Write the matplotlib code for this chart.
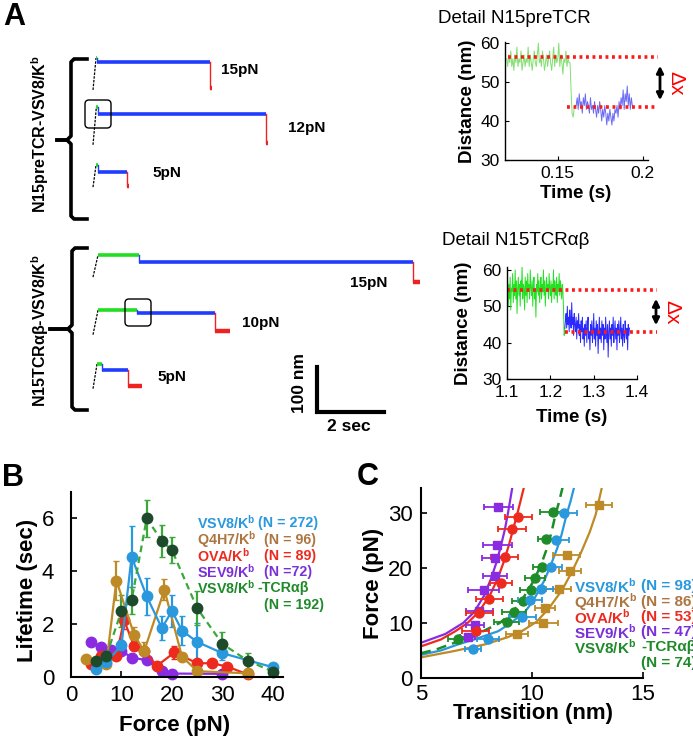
import numpy as np
import matplotlib
matplotlib.use('Agg')
import matplotlib.pyplot as plt
from matplotlib.patches import FancyBboxPatch

plt.rcParams['font.family'] = ['Liberation Sans', 'DejaVu Sans']
plt.rcParams['mathtext.fontset'] = 'custom'
plt.rcParams['mathtext.rm'] = 'Liberation Sans'
plt.rcParams['mathtext.bf'] = 'Liberation Sans:bold'

KB = r'K$^{\mathbf{b}}$'

# ---------------- data ----------------
# panel A, raw traces (seconds / nm)
trace_labels = ['15pN', '12pN', '5pN', '15pN', '10pN', '5pN']
ramp_dur = [0.09, 0.10, 0.09, 0.15, 0.15, 0.12]
ramp_nm = [71, 84, 49, 49, 55, 55]
green_dur = [0.03, 0.05, 0.06, 1.22, 1.16, 0.15]
blue_dur = [3.37, 5.00, 0.87, 8.18, 2.33, 0.78]
red_dur = [0.06, 0.06, 0.06, 0.25, 0.45, 0.42]
step1_nm = [9, 16, 15, 15, 7, 13]
step2_nm = [58, 64, 32, 45, 40, 36]
scale_sec = 2
scale_nm = 100

# detail N15preTCR
d1_t0, d1_dt = 0.120, 0.0006
d1_green = [56, 54, 57, 55, 58, 54, 56, 53, 57, 55, 59, 54, 56, 55, 58, 53, 55, 57,
            54, 56, 55, 59, 54, 57, 55, 53, 56, 58, 55, 54, 57, 60, 55, 56, 54, 58,
            56, 53, 55, 57, 54, 56, 58, 55, 53, 56, 59, 54, 57, 55, 56, 60, 54, 57,
            55, 52, 56, 55, 58, 54, 56, 55, 55, 48, 42, 41, 43, 44]
d1_blue = [44, 46, 43, 47, 44, 45, 42, 46, 44, 47, 43, 45, 44, 42, 46, 43, 44, 42,
           45, 43, 41, 44, 42, 45, 43, 40, 43, 41, 44, 42, 39, 42, 40, 43, 41, 39,
           42, 40, 43, 42, 44, 41, 45, 43, 46, 44, 48, 43, 47, 45, 49, 44, 47, 43,
           46, 44]
d1_levels = [56.4, 43.6]

# detail N15TCRab
d2_t0, d2_dt = 1.100, 0.00145
d2_green = [53, 57, 50, 56, 52, 58, 49, 55, 54, 59, 51, 56, 53, 60, 52, 57, 48, 55,
            58, 53, 56, 50, 57, 54, 61, 52, 56, 55, 49, 58, 53, 57, 51, 59, 54, 56,
            52, 60, 55, 53, 57, 50, 56, 58, 52, 55, 47, 56, 54, 59, 53, 57, 51, 55,
            58, 52, 56, 54, 60, 53, 57, 50, 55, 58, 54, 56, 52, 59, 55, 53, 57, 51,
            56, 54, 60, 52, 57, 55, 53, 58, 51, 56, 54, 59, 53, 57, 55, 52, 56, 54,
            49, 42, 44]
d2_blue = [46, 48, 44, 50, 45, 47, 43, 49, 46, 44, 51, 45, 47, 42, 48, 45, 43, 47,
           41, 46, 44, 48, 42, 45, 40, 46, 43, 47, 41, 44, 39, 45, 42, 46, 40, 44,
           47, 41, 43, 38, 45, 42, 46, 40, 43, 48, 41, 44, 39, 46, 42, 45, 37, 43,
           47, 41, 44, 40, 46, 42, 45, 38, 44, 41, 47, 43, 40, 45, 36, 43, 46, 41,
           44, 39, 45, 42, 47, 40, 43, 46, 41, 44, 38, 45, 42, 46, 40, 43, 47, 41,
           44, 39, 45, 42, 40, 46, 43, 41, 44, 38, 45, 42, 44]
d2_levels = [54.5, 43.0]

# panel B: lifetime vs force
b_vsv8_f = [5, 7, 10, 12, 15, 18, 20, 22, 25, 30, 40]
b_vsv8_t = [0.30, 0.55, 1.2, 4.55, 3.05, 1.85, 2.5, 1.75, 1.33, 0.9, 0.37]
b_vsv8_e = [0.1, 0.12, 0.2, 1.15, 0.7, 0.45, 0.6, 0.55, 0.7, 0.25, 0.08]
b_q4h7_f = [3, 7, 9, 12.5, 14.5, 18.5, 22, 25, 35]
b_q4h7_t = [0.7, 0.5, 3.65, 1.6, 0.98, 3.3, 0.77, 0.22, 0.14]
b_q4h7_e = [0.1, 0.1, 0.75, 0.3, 0.35, 0.4, 0.15, 0.1, 0.05]
b_ova_f = [4, 6, 9, 10.5, 12.5, 14.5, 17, 20.5, 25, 28, 31, 35]
b_ova_t = [0.5, 0.8, 0.8, 2.15, 1.17, 1.0, 0.42, 0.93, 0.52, 0.52, 0.39, 0.1]
b_ova_e = [0.08, 0.1, 0.1, 0.35, 0.15, 0.15, 0.08, 0.25, 0.1, 0.08, 0.08, 0.05]
b_sev9_f = [4, 6, 8, 10, 12, 15, 18, 20, 30]
b_sev9_t = [1.33, 1.12, 1.02, 1.0, 0.73, 0.64, 0.22, 0.13, 0.12]
b_sev9_e = [0.1, 0.1, 0.1, 0.1, 0.08, 0.08, 0.05, 0.05, 0.05]
b_tcr_f = [5, 7, 10, 12, 15, 18, 20, 25, 30, 35, 40]
b_tcr_t = [0.62, 0.8, 2.5, 2.9, 6.0, 5.15, 4.8, 2.6, 1.25, 0.62, 0.2]
b_tcr_e = [0.15, 0.2, 0.6, 0.5, 0.7, 0.6, 0.5, 0.65, 0.45, 0.3, 0.1]
b_counts = ['(N = 272)', '(N = 96)', '(N = 89)', '(N =72)', '(N = 192)']

# panel C: force vs transition
c_vsv8_x = [7.35, 8.03, 9.57, 9.92, 10.4, 10.84, 11.1, 11.43]
c_vsv8_f = [5.2, 7.1, 11.1, 14.1, 16.1, 20.2, 25.1, 30.0]
c_vsv8_e = [0.35, 0.5, 0.6, 0.55, 0.55, 0.5, 0.55, 0.6]
c_q4h7_x = [9.31, 10.5, 10.6, 11.2, 11.7, 11.56, 13.02]
c_q4h7_f = [7.9, 10.0, 12.7, 16.2, 19.4, 22.4, 31.4]
c_q4h7_e = [0.5, 0.65, 0.45, 0.55, 0.5, 0.6, 0.57]
c_ova_x = [7.46, 7.63, 8.08, 8.6, 8.77, 9.09, 9.39]
c_ova_f = [8.5, 11.8, 14.4, 17.2, 22.0, 27.0, 29.2]
c_ova_e = [0.6, 0.6, 0.6, 0.5, 0.6, 0.62, 0.62]
c_sev9_x = [7.1, 7.43, 7.63, 7.83, 8.33, 8.33, 8.44, 8.48]
c_sev9_f = [7.5, 9.7, 12.2, 15.9, 18.6, 21.8, 24.2, 31.0]
c_sev9_e = [0.35, 0.4, 0.6, 0.7, 0.55, 0.6, 0.64, 0.66]
c_tcr_x = [6.67, 8.86, 9.19, 9.61, 9.95, 10.15, 10.45, 10.65, 10.93]
c_tcr_f = [7.1, 10.1, 12.0, 14.0, 16.0, 18.2, 20.2, 25.2, 30.1]
c_tcr_e = [0.45, 0.55, 0.55, 0.5, 0.5, 0.45, 0.4, 0.4, 0.55]
# fitted curves
fit_sev9_x = [5.0, 6.1, 6.9, 7.4, 7.85, 8.15, 8.4, 8.6, 8.78, 8.92, 9.13]
fit_sev9_f = [6.4, 8.0, 10.0, 12.0, 15.0, 18.0, 21.0, 24.0, 27.0, 30.0, 35.0]
fit_ova_x = [5.0, 5.9, 6.55, 7.1, 7.6, 8.1, 8.45, 8.72, 8.95, 9.15, 9.35, 9.66]
fit_ova_f = [5.75, 7.0, 8.5, 10.0, 12.0, 15.0, 18.0, 21.0, 24.0, 27.0, 30.0, 35.0]
fit_vsv8_x = [5.0, 5.9, 6.67, 7.4, 8.48, 9.05, 9.7, 10.05, 10.54, 10.8, 11.14, 11.33, 11.56, 11.73, 11.92]
fit_vsv8_f = [4.2, 5.0, 6.1, 7.0, 8.5, 10.0, 12.1, 14.0, 17.6, 20.0, 23.6, 26.0, 29.7, 32.0, 35.0]
fit_tcr_x = [5.0, 5.7, 6.3, 7.1, 7.8, 8.55, 9.16, 9.6, 10.07, 10.4, 10.68, 10.88, 11.06, 11.22, 11.4]
fit_tcr_f = [4.5, 5.2, 6.1, 7.2, 8.5, 10.0, 12.1, 14.5, 17.6, 20.5, 23.6, 26.5, 29.7, 32.0, 35.0]
fit_q4h7_x = [5.0, 6.5, 7.88, 8.9, 9.54, 10.2, 10.75, 11.36, 11.8, 12.19, 12.6, 12.87, 13.17]
fit_q4h7_f = [3.75, 4.9, 6.1, 7.4, 8.5, 10.2, 12.6, 16.0, 19.3, 22.6, 26.5, 29.7, 35.0]
c_counts = ['(N = 98)', '(N = 86)', '(N = 53)', '(N = 47)', '(N = 74)']

names = ['VSV8/' + KB, 'Q4H7/' + KB, 'OVA/' + KB, 'SEV9/' + KB, 'VSV8/' + KB]

# colours
c_blue = '#2a98dc'
c_brown = '#bd8a26'
c_red = '#ee2a1e'
c_purple = '#8a2be2'
c_green = '#3aa83a'
c_dkgreen = '#1e4a2c'
txt_cols = ['#2a98dc', '#ad7540', '#ee2a1e', '#7a30d8', '#1f8a2a']

# ---------------- figure ----------------
W, H = 693, 737
fig = plt.figure(figsize=(W / 100, H / 100), dpi=100)


def px_axes(l, t, r, b):
    return fig.add_axes([l / W, 1 - b / H, (r - l) / W, (b - t) / H])


# ---- panel A raw traces ----
PXS, PXN = 33.5, 0.45   # px per second, px per nm
ta = px_axes(0, 40, 420, 440)
ta.set_xlim(-90 / PXS, 330 / PXS)
ta.set_ylim(0, 400 / PXN)
ta.axis('off')
trace_top = [849, 740, 611, 411, 289, 169]   # nm position of each trace in the panel
t_start = 0.09
for i in range(6):
    yg = trace_top[i]
    yb = yg - step1_nm[i]
    yr = yb - step2_nm[i]
    t1 = t_start + ramp_dur[i]
    t2 = t1 + green_dur[i]
    t3 = t2 + blue_dur[i]
    t4 = t3 + red_dur[i]
    ta.plot([t_start, t1], [yg - ramp_nm[i], yg], color='k', lw=0.9, dashes=(2, 1))
    ta.plot([t1, t2], [yg, yg], color='#22dd22', lw=2.6, solid_capstyle='butt')
    ta.plot([t2, t2], [yg, yb], color='#1f3cff', lw=1)
    ta.plot([t2, t3], [yb, yb], color='#1f3cff', lw=2.6, solid_capstyle='butt')
    ta.plot([t3, t3], [yb, yr], color='#ee2222', lw=1)
    ta.plot([t3, t4], [yr, yr], color='#ee2222', lw=3.2, solid_capstyle='butt')

sb_t, sb_n = 6.78, 62
ta.plot([sb_t, sb_t, sb_t + scale_sec], [sb_n + scale_nm, sb_n, sb_n], color='k', lw=3,
        solid_joinstyle='miter')

# ---- detail panels ----
def detail(ax, t0, dt, green, blue, levels, xlim, ylim, xt, xtl, gcol, bcol, lvl_x, xend):
    tg = t0 + dt * np.arange(len(green))
    tb = tg[-1] + dt * np.arange(1, len(blue) + 1)
    ax.plot(tg, green, color=gcol, lw=0.7)
    ax.plot(np.r_[tg[-1], tb], np.r_[green[-1], blue], color=bcol, lw=0.7)
    ax.plot([lvl_x[0], xend], [levels[0]] * 2, color='#ff1a1a', lw=2.6,
            linestyle=(0, (0.8, 1.0)), clip_on=False)
    ax.plot([lvl_x[1], xend], [levels[1]] * 2, color='#ff1a1a', lw=2.6,
            linestyle=(0, (0.8, 1.0)), clip_on=False)
    ax.set_xlim(*xlim)
    ax.set_ylim(*ylim)
    ax.set_xticks(xt)
    ax.set_xticklabels(xtl)
    ax.set_yticks([30, 40, 50, 60])
    for s in ['top', 'right']:
        ax.spines[s].set_visible(False)
    for s in ['left', 'bottom']:
        ax.spines[s].set_linewidth(1)
    ax.tick_params(direction='in', length=3, labelsize=12.5, pad=4)


d1 = px_axes(505, 42, 648, 160)
detail(d1, d1_t0, d1_dt, d1_green, d1_blue, d1_levels, (0.119, 0.203), (30, 60.3),
       [0.15, 0.2], ['0.15', '0.2'], '#80e070', '#6a6af5', (0.1208, 0.1555), 0.209)
d2 = px_axes(507, 267, 637, 379)
detail(d2, d2_t0, d2_dt, d2_green, d2_blue, d2_levels, (1.1, 1.4), (30, 60.8),
       [1.1, 1.2, 1.3, 1.4], ['1.1', '1.2', '1.3', '1.4'], '#22e022', '#2a2aff',
       (1.1, 1.234), 1.446)

# ---- panel B ----
axb = px_axes(71, 492, 283, 677)
series_b = [(b_sev9_f, b_sev9_t, b_sev9_e, c_purple),
            (b_ova_f, b_ova_t, b_ova_e, c_red),
            (b_q4h7_f, b_q4h7_t, b_q4h7_e, c_brown),
            (b_vsv8_f, b_vsv8_t, b_vsv8_e, c_blue)]
for f, t, e, c in series_b:
    axb.errorbar(f, t, yerr=e, color=c, marker='o', ms=7.5, lw=1.6, elinewidth=1.6,
                 capsize=2, mec=c, mfc=c, clip_on=False)
axb.errorbar(b_tcr_f, b_tcr_t, yerr=b_tcr_e, color=c_green, ls='--', dashes=(3, 2),
             marker='o', ms=7.5, lw=1.6, elinewidth=1.6, capsize=2, mfc=c_dkgreen,
             mec=c_dkgreen, ecolor=c_green, clip_on=False)
axb.set_xlim(0, 42)
axb.set_ylim(0, 7.0)
axb.set_xticks([0, 10, 20, 30, 40])
axb.set_yticks([0, 2, 4, 6])

# ---- panel C ----
axc = px_axes(421, 488, 643, 678)
axc.plot(fit_sev9_x, fit_sev9_f, color=c_purple, lw=1.6)
axc.plot(fit_ova_x, fit_ova_f, color=c_red, lw=1.6)
axc.plot(fit_vsv8_x, fit_vsv8_f, color=c_blue, lw=1.6)
axc.plot(fit_tcr_x, fit_tcr_f, color='#1e8c28', lw=1.8, dashes=(4, 2.5))
axc.plot(fit_q4h7_x, fit_q4h7_f, color=c_brown, lw=1.6)
series_c = [(c_sev9_x, c_sev9_f, c_sev9_e, c_purple, 's', 5.5),
            (c_ova_x, c_ova_f, c_ova_e, c_red, 'o', 6.5),
            (c_q4h7_x, c_q4h7_f, c_q4h7_e, c_brown, 's', 5.5),
            (c_tcr_x, c_tcr_f, c_tcr_e, '#1e8c28', 'o', 6.5),
            (c_vsv8_x, c_vsv8_f, c_vsv8_e, c_blue, 'o', 6.5)]
for x, f, e, c, m, ms in series_c:
    axc.errorbar(x, f, xerr=e, color=c, marker=m, ms=ms, ls='none', elinewidth=1.3,
                 capsize=2.5, capthick=1.3, clip_on=False)
axc.set_xlim(5, 15)
axc.set_ylim(0, 34.5)
axc.set_xticks([5, 10, 15])
axc.set_yticks([0, 10, 20, 30])

for ax, ypad, xpad in [(axb, 12, 6), (axc, 6, 4)]:
    for s in ['top', 'right']:
        ax.spines[s].set_visible(False)
    for s in ['left', 'bottom']:
        ax.spines[s].set_linewidth(1.5)
    ax.tick_params(direction='in', length=4, width=1.2, labelsize=16)
    ax.tick_params(axis='y', pad=ypad)
    ax.tick_params(axis='x', pad=xpad)

# overlay in pixel coordinates for annotations (drawn above every axes)
ov = fig.add_axes([0, 0, 1, 1])
ov.set_zorder(10)
ov.set_xlim(0, W)
ov.set_ylim(H, 0)
ov.axis('off')
ov.patch.set_alpha(0)

ov.text(14, 17, 'A', fontsize=22, fontweight='bold', ha='center', va='center')
ov.text(13, 478, 'B', fontsize=22, fontweight='bold', ha='center', va='center')
ov.text(368, 477, 'C', fontsize=22, fontweight='bold', ha='center', va='center')

lab_pos = [(221, 70), (288, 128), (152, 173), (350, 283), (242, 323), (157, 377)]
for (x, y), s in zip(lab_pos, trace_labels):
    ov.text(x, y, s, fontsize=11, fontweight='bold', ha='left', va='center')


def bracket(x, top, mid, bot, tick_x, hook_x):
    ov.plot([hook_x, x + 3, x, x, x - 4, tick_x], [top, top, top + 3, mid - 4, mid, mid],
            color='k', lw=2.6, solid_joinstyle='round')
    ov.plot([tick_x, x - 4, x, x, x + 3, hook_x], [mid, mid, mid + 4, bot - 3, bot, bot],
            color='k', lw=2.6, solid_joinstyle='round')


bracket(71, 59, 140, 219, 57, 87)
bracket(72, 248, 329, 410, 50, 87)
ov.text(40, 134, 'N15preTCR-VSV8/' + KB, rotation=90, fontsize=11.5, fontweight='bold',
        ha='center', va='center')
ov.text(40, 331, 'N15TCRαβ-VSV8/' + KB, rotation=90, fontsize=11.5, fontweight='bold',
        ha='center', va='center')

for (x0, y0, w, h) in [(85, 100, 26, 28), (125, 299, 26, 27)]:
    ov.add_patch(FancyBboxPatch((x0, y0), w, h, boxstyle='round,pad=0,rounding_size=4',
                                fc='none', ec='k', lw=1))

ov.text(300, 383, '100 nm', rotation=90, fontsize=12.5, fontweight='bold',
        ha='center', va='center')
ov.text(349, 426, '2 sec', fontsize=12.5, fontweight='bold', ha='center', va='center')

ov.text(438, 18, 'Detail N15preTCR', fontsize=13.5, ha='left', va='center')
ov.text(442, 240, 'Detail N15TCRαβ', fontsize=13.5, ha='left', va='center')
ov.text(467, 101, 'Distance (nm)', rotation=90, fontsize=13.5, fontweight='bold',
        ha='center', va='center')
ov.text(576, 193, 'Time (s)', fontsize=13.5, fontweight='bold', ha='center', va='center')
ov.text(463, 323, 'Distance (nm)', rotation=90, fontsize=13.5, fontweight='bold',
        ha='center', va='center')
ov.text(572, 417, 'Time (s)', fontsize=13.5, fontweight='bold', ha='center', va='center')
for (x, y0, y1, ty) in [(660, 63, 103, 83), (656, 296, 328, 312)]:
    ov.annotate('', xy=(x, y0), xytext=(x, y1),
                arrowprops=dict(arrowstyle='<|-|>', lw=2, color='k', mutation_scale=10))
    ov.text(x + 16, ty, 'Δx', rotation=-90, color='red', fontsize=15,
            ha='center', va='center')

ov.text(28, 590, 'Lifetime (sec)', rotation=90, fontsize=16, fontweight='bold',
        ha='center', va='center')
ov.text(175, 725, 'Force (pN)', fontsize=16, fontweight='bold', ha='center', va='center')
ov.text(373, 583, 'Force (pN)', rotation=90, fontsize=16, fontweight='bold',
        ha='center', va='center')
ov.text(533, 713, 'Transition (nm)', fontsize=16, fontweight='bold', ha='center', va='center')

# legends as coloured text
b_rows = [523, 540, 556, 572, 588, 605]
b_ncol = [258, 264, 264, 264, 264]
for i in range(5):
    ov.text(197, b_rows[i], names[i], color=txt_cols[i], fontsize=10.3, fontweight='bold',
            ha='left', va='center')
    if i < 4:
        ov.text(b_ncol[i], b_rows[i], b_counts[i], color=txt_cols[i], fontsize=10.3,
                fontweight='bold', ha='left', va='center')
ov.text(258, b_rows[4], '-TCRαβ', color=txt_cols[4], fontsize=10.3, fontweight='bold',
        ha='left', va='center')
ov.text(264, b_rows[5], b_counts[4], color=txt_cols[4], fontsize=10.3, fontweight='bold',
        ha='left', va='center')

c_rows = [586, 602, 617, 632, 647, 663]
for i in range(5):
    ov.text(574, c_rows[i], names[i], color=txt_cols[i], fontsize=11, fontweight='bold',
            ha='left', va='center')
    if i < 4:
        ov.text(641, c_rows[i], c_counts[i], color=txt_cols[i], fontsize=11,
                fontweight='bold', ha='left', va='center')
ov.text(641, c_rows[4], '-TCRαβ', color=txt_cols[4], fontsize=11, fontweight='bold',
        ha='left', va='center')
ov.text(641, c_rows[5], c_counts[4], color=txt_cols[4], fontsize=11, fontweight='bold',
        ha='left', va='center')

fig.savefig('out.png', dpi=100)
